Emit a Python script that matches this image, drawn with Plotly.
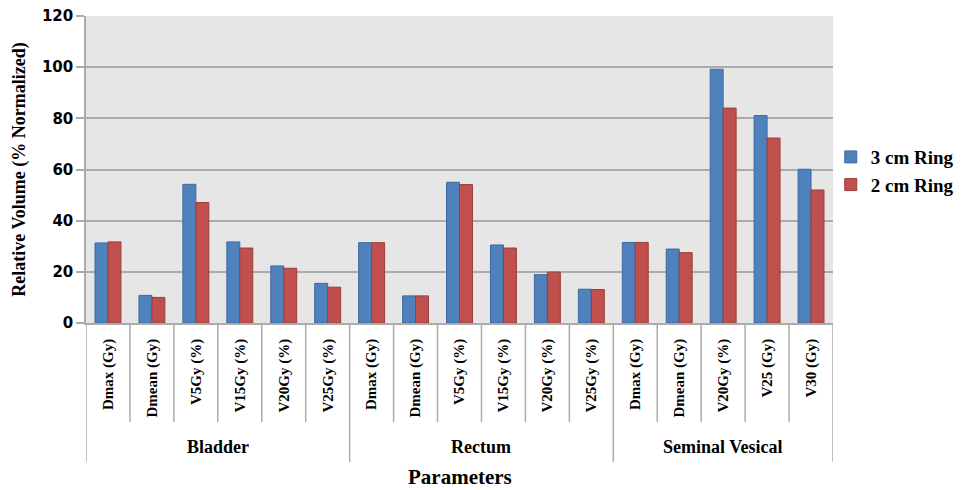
import plotly.graph_objects as go

groups = ["Bladder", "Rectum", "Seminal Vesical"]
group_params = [
    ["Dmax (Gy)", "Dmean (Gy)", "V5Gy (%)", "V15Gy (%)", "V20Gy (%)", "V25Gy (%)"],
    ["Dmax (Gy)", "Dmean (Gy)", "V5Gy (%)", "V15Gy (%)", "V20Gy (%)", "V25Gy (%)"],
    ["Dmax (Gy)", "Dmean (Gy)", "V20Gy (%)", "V25 (Gy)", "V30 (Gy)"],
]
ring3 = [31.3, 10.8, 54.2, 31.7, 22.3, 15.5,
         31.4, 10.6, 55.0, 30.5, 18.9, 13.2,
         31.5, 28.9, 99.2, 81.1, 60.1]
ring2 = [31.7, 10.0, 47.1, 29.3, 21.4, 14.0,
         31.4, 10.6, 54.1, 29.3, 19.9, 13.1,
         31.5, 27.5, 84.0, 72.3, 52.0]
series_names = ["3 cm Ring", "2 cm Ring"]
y_ticks = [0, 20, 40, 60, 80, 100, 120]

labels = [p for g in group_params for p in g]
xpos = list(range(len(labels)))

SERIF = "Liberation Serif"
GRID = "#ababab"

fig = go.Figure()
fig.add_trace(go.Bar(x=xpos, y=ring3, name=series_names[0],
                     marker=dict(color="#4f81bd", line=dict(color="#3d6a9f", width=1))))
fig.add_trace(go.Bar(x=xpos, y=ring2, name=series_names[1],
                     marker=dict(color="#c0504d", line=dict(color="#9c3d3a", width=1))))

# plot area geometry (px) for paper-coordinate conversion
top_px, bot_px = 16, 323
ph = bot_px - top_px
def py(p):
    return (bot_px - p) / ph

shapes = []
annotations = []
start = 0
bounds = [-0.5]
for g, plist in zip(groups, group_params):
    n = len(plist)
    for k in range(1, n):
        xb = start + k - 0.5
        shapes.append(dict(type="line", xref="x", yref="paper", x0=xb, x1=xb,
                           y0=0, y1=py(422), line=dict(color=GRID, width=1.5)))
    xe = start + n - 0.5
    bounds.append(xe)
    annotations.append(dict(x=start + (n - 1) / 2, y=py(447), xref="x", yref="paper",
                            text=g, showarrow=False, yanchor="middle",
                            font=dict(family=SERIF, size=18, color="black", weight="bold")))
    start += n
for xb in bounds:
    shapes.append(dict(type="line", xref="x", yref="paper", x0=xb, x1=xb,
                       y0=0, y1=py(462), line=dict(color=GRID, width=1.5)))

annotations.append(dict(x=0.5, y=py(477), xref="paper", yref="paper",
                        text="Parameters", showarrow=False, yanchor="middle",
                        font=dict(family=SERIF, size=21, color="black", weight="bold")))

fig.update_layout(
    width=970, height=490,
    margin=dict(l=86, r=137, t=top_px, b=490 - bot_px, autoexpand=False),
    paper_bgcolor="white", plot_bgcolor="#e6e6e6",
    barmode="group", bargap=0.41, bargroupgap=0,
    shapes=shapes, annotations=annotations,
    legend=dict(x=0.997, y=0.495, xanchor="left", yanchor="middle",
                font=dict(family=SERIF, size=19, color="black", weight="bold"),
                bgcolor="rgba(0,0,0,0)", tracegroupgap=0, itemwidth=30),
    showlegend=True,
)
fig.update_xaxes(
    tickmode="array", tickvals=xpos, ticktext=labels,
    tickangle=-90, range=[-0.5, len(labels) - 0.5], automargin=False,
    tickfont=dict(family=SERIF, size=15, color="black", weight="bold"),
    ticks="outside", ticklen=8, tickcolor="rgba(0,0,0,0)",
    showline=True, linecolor=GRID, linewidth=1.5, showgrid=False, zeroline=False,
)
fig.update_yaxes(
    range=[0, 120], tickvals=y_ticks, automargin=False,
    tickfont=dict(family="DejaVu Sans", size=15, color="black", weight="bold"),
    ticks="outside", ticklen=8, tickcolor=GRID, tickwidth=1.5,
    showgrid=True, gridcolor=GRID, gridwidth=1.5,
    showline=True, linecolor=GRID, linewidth=1.5, zeroline=False,
    title=dict(text="Relative Volume (% Normalized)", standoff=12,
               font=dict(family=SERIF, size=18, color="black", weight="bold")),
)

fig.write_html("out.html")
